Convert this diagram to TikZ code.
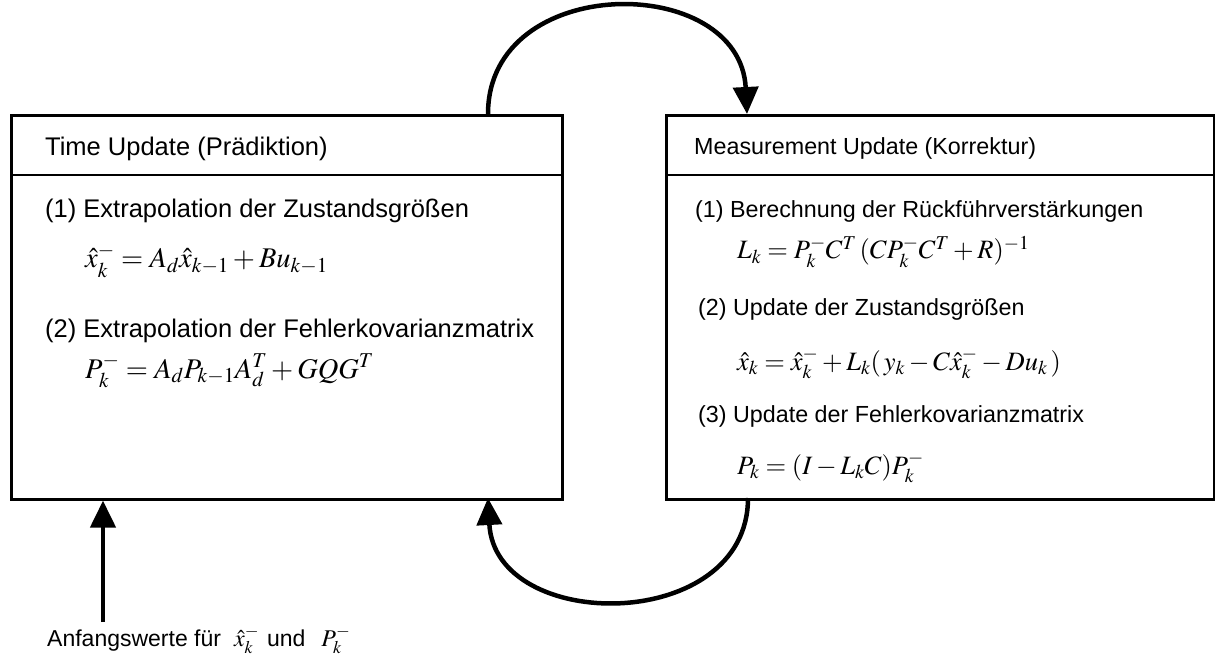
\documentclass[tikz,border=0pt]{standalone}
\usepackage{mathptmx}
\usepackage{fontspec}
\setmainfont{Liberation Sans}
\usetikzlibrary{arrows.meta,calc}
\begin{document}
\begin{tikzpicture}[x=1pt,y=-1pt,
  box/.style={draw,line width=2.6pt,inner sep=0pt,anchor=north west},
  txt/.style={anchor=base west,inner sep=0pt,font=\fontsize{25.5}{30}\selectfont},
  txtr/.style={anchor=base west,inner sep=0pt,font=\fontsize{23.3}{28}\selectfont},
  eq/.style={anchor=base west,inner sep=0pt,font=\fontsize{26.5}{31}\selectfont},
  eql/.style={anchor=base west,inner sep=0pt,font=\fontsize{28.5}{34}\selectfont},
  arr/.style={line width=4.5pt,-{Triangle[length=27pt,width=25pt]}}]
\useasboundingbox (0,0) rectangle (1215,668);
% boxes
\node[box,minimum width=551pt,minimum height=384pt] (tu) at (10,114) {};
\node[box,minimum width=548pt,minimum height=384pt] (mu) at (665,114) {};
\draw[line width=2.6pt] ([yshift=-61pt]tu.north west) -- ([yshift=-61pt]tu.north east);
\draw[line width=2.6pt] ([yshift=-61pt]mu.north west) -- ([yshift=-61pt]mu.north east);
% left texts
\node[txt] (tuh) at (45,156) {Time Update (Prädiktion)};
\node[txt] (tu1) at (45,218) {(1) Extrapolation der Zustandsgrößen};
\node[eql] (tue1) at (85,268) {$\hat{x}_k^- = A_d\hat{x}_{k-1} + Bu_{k-1}$};
\node[txt] (tu2) at (45,337) {(2) Extrapolation der Fehlerkovarianzmatrix};
\node[eql] (tue2) at (85,378) {$P_k^- = A_d P_{k-1} A_d^T + GQG^T$};
% right texts
\node[txtr] (muh) at (694,155) {Measurement Update (Korrektur)};
\node[txtr] (mu1) at (695,218) {(1) Berechnung der Rückführverstärkungen};
\node[eq] (mue1) at (737,259) {$L_k = P_k^- C^T\,(CP_k^- C^T + R)^{-1}$};
\node[txtr] (mu2) at (698,315) {(2) Update der Zustandsgrößen};
\node[eq] (mue2) at (737,370) {$\hat{x}_k = \hat{x}_k^- + L_k(\,y_k - C\hat{x}_k^- - Du_k\,)$};
\node[txtr] (mu3) at (698,422) {(3) Update der Fehlerkovarianzmatrix};
\node[eq] (mue3) at (737,474) {$P_k = (I - L_k C)P_k^-$};
% bottom label and arrow
\node[anchor=base west,inner sep=0pt,font=\fontsize{23}{27}\selectfont] (init) at (47,646)
  {Anfangswerte für\hspace{13pt}{\fontsize{24}{28}\selectfont$\hat{x}_k^-$}\hspace{8pt}und\hspace{16pt}{\fontsize{24}{28}\selectfont$P_k^-$}};
\coordinate (ini) at (103,622);
\draw[arr] (ini) -- (ini |- tu.south);
% cycle arcs
\coordinate (a1) at (488,114);
\coordinate (a2) at (747,114);
\coordinate (b1) at (748,498);
\coordinate (b2) at (488,498);
\draw[arr] (a1) .. controls (488,-28) and (740,-28) .. (a2);
\draw[arr] (b1) .. controls (748,634) and (495,634) .. (b2);
\end{tikzpicture}
\end{document}
